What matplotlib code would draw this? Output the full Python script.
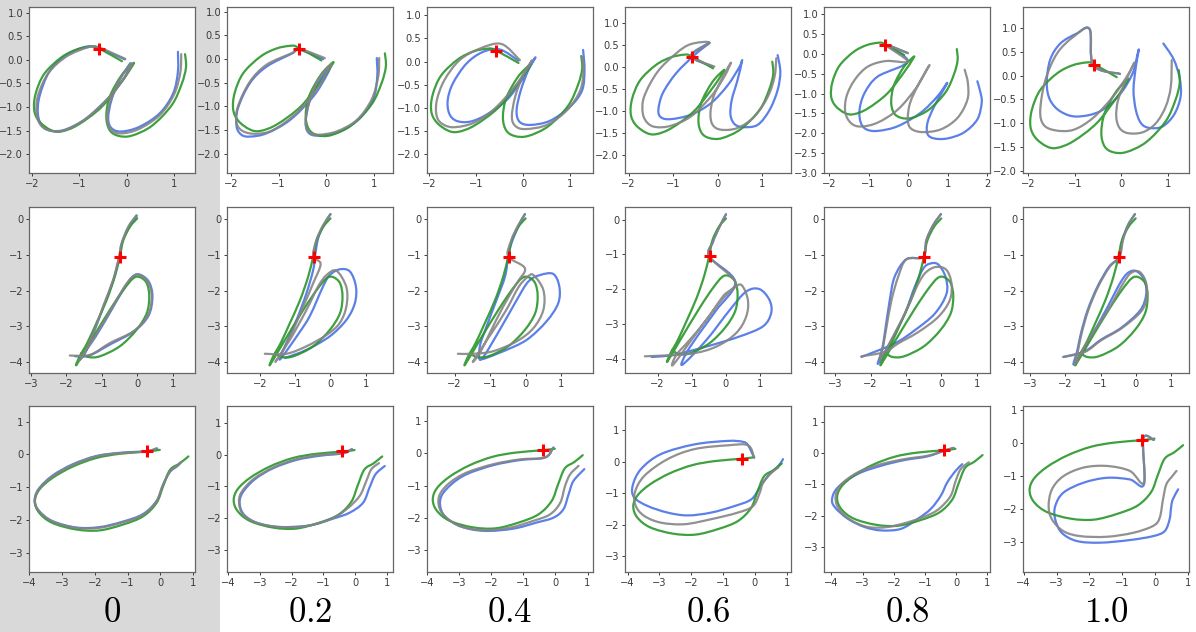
import matplotlib
matplotlib.use("Agg")
import matplotlib.pyplot as plt
from matplotlib.patches import Rectangle, PathPatch
from matplotlib.path import Path
from matplotlib.ticker import MultipleLocator

col_labels = ["0", "0.2", "0.4", "0.6", "0.8", "1.0"]

# red cross (query point) per row
cross = [(-0.58, 0.22), (-0.48, -1.05), (-0.40, 0.10)]

# ---- row 1: "a" ----
a_green = [(-0.10, -0.03), (-0.60, 0.25), (-0.75, 0.28), (-1.05, 0.22), (-1.38, 0.05), (-1.74, -0.30),
           (-1.92, -0.72), (-1.95, -1.07), (-1.84, -1.31), (-1.60, -1.49), (-1.38, -1.52), (-1.03, -1.38),
           (-0.53, -1.00), (-0.11, -0.47), (0.10, -0.16), (0.14, -0.07), (-0.11, -0.33), (-0.36, -0.79),
           (-0.43, -1.21), (-0.36, -1.49), (-0.18, -1.61), (0.10, -1.61), (0.53, -1.40), (0.95, -0.96),
           (1.16, -0.51), (1.25, -0.16), (1.23, 0.12)]
a_gray = [
    [(-0.03, 0.02), (-0.58, 0.26), (-0.80, 0.27), (-1.27, 0.07), (-1.65, -0.28), (-1.87, -0.76), (-1.90, -1.15),
     (-1.80, -1.40), (-1.58, -1.51), (-1.30, -1.49), (-0.85, -1.24), (-0.36, -0.78), (-0.02, -0.34), (0.10, -0.08),
     (-0.14, -0.40), (-0.33, -0.83), (-0.41, -1.23), (-0.34, -1.47), (-0.13, -1.56), (0.25, -1.47), (0.70, -1.17),
     (1.00, -0.73), (1.13, -0.27), (1.15, 0.12)],
    [(-0.03, 0.02), (-0.55, 0.21), (-0.73, 0.12), (-1.25, -0.12), (-1.60, -0.48), (-1.85, -1.00), (-1.88, -1.35),
     (-1.74, -1.53), (-1.46, -1.58), (-1.11, -1.50), (-0.62, -1.14), (-0.20, -0.65), (0.04, -0.23), (0.09, -0.12),
     (-0.17, -0.44), (-0.34, -0.86), (-0.43, -1.28), (-0.38, -1.53), (-0.17, -1.60), (0.22, -1.53), (0.64, -1.29),
     (0.95, -0.86), (1.09, -0.37), (1.11, 0.02)],
    [(-0.07, 0.03), (-0.46, 0.38), (-0.92, 0.28), (-1.35, 0.03), (-1.67, -0.40), (-1.83, -0.83), (-1.84, -1.15),
     (-1.74, -1.33), (-1.49, -1.42), (-1.06, -1.33), (-0.64, -1.05), (-0.21, -0.58), (0.11, -0.11), (0.18, 0.02),
     (0.00, -0.29), (-0.17, -0.76), (-0.24, -1.19), (-0.17, -1.39), (0.04, -1.46), (0.50, -1.37), (0.93, -1.05),
     (1.21, -0.62), (1.28, -0.18), (1.25, 0.10)],
    [(-0.07, 0.01), (-0.60, 0.25), (-0.18, 0.55), (-0.60, 0.52), (-0.93, 0.31), (-1.35, -0.11), (-1.65, -0.67),
     (-1.68, -1.05), (-1.57, -1.27), (-1.38, -1.36), (-1.05, -1.33), (-0.60, -1.12), (-0.15, -0.67), (0.15, -0.22),
     (0.30, 0.10), (0.12, -0.22), (-0.09, -0.67), (-0.16, -1.05), (-0.11, -1.31), (0.08, -1.42), (0.45, -1.38),
     (0.83, -1.12), (1.13, -0.67), (1.28, -0.22), (1.32, 0.20)],
    [(-0.01, 0.02), (-0.56, 0.22), (-0.01, -0.19), (-0.56, -0.18), (-1.02, -0.32), (-1.35, -0.65), (-1.56, -1.07),
     (-1.59, -1.48), (-1.44, -1.75), (-1.19, -1.83), (-0.77, -1.73), (-0.26, -1.40), (0.20, -0.86), (0.49, -0.36),
     (0.52, -0.32), (0.28, -0.73), (0.05, -1.23), (-0.01, -1.65), (0.07, -1.88), (0.36, -1.97), (0.83, -1.90),
     (1.25, -1.61), (1.50, -1.15), (1.51, -0.73), (1.43, -0.40)],
    [(-0.03, 0.04), (-0.60, 0.22), (-0.68, 0.98), (-1.03, 0.82), (-1.38, 0.47), (-1.63, -0.09), (-1.74, -0.72),
     (-1.67, -1.03), (-1.42, -1.15), (-1.03, -1.14), (-0.61, -0.89), (-0.18, -0.44), (0.14, 0.02), (0.28, 0.28),
     (0.10, -0.09), (-0.07, -0.51), (-0.11, -0.86), (-0.04, -1.10), (0.14, -1.21), (0.46, -1.19), (0.74, -1.00),
     (0.95, -0.65), (1.06, -0.23), (1.08, 0.33)],
]
a_blue = [
    [(-0.04, 0.01), (-0.57, 0.24), (-0.85, 0.28), (-1.27, 0.10), (-1.63, -0.25), (-1.84, -0.78), (-1.87, -1.17),
     (-1.77, -1.42), (-1.56, -1.51), (-1.27, -1.47), (-0.85, -1.24), (-0.36, -0.78), (-0.04, -0.36), (0.08, -0.07),
     (-0.15, -0.43), (-0.32, -0.85), (-0.39, -1.24), (-0.32, -1.45), (-0.11, -1.52), (0.27, -1.42), (0.70, -1.13),
     (0.98, -0.71), (1.08, -0.25), (1.08, 0.17)],
    [(-0.06, 0.00), (-0.55, 0.19), (-0.73, 0.11), (-1.25, -0.16), (-1.60, -0.51), (-1.85, -1.04), (-1.88, -1.42),
     (-1.78, -1.60), (-1.60, -1.64), (-1.25, -1.57), (-0.76, -1.29), (-0.27, -0.79), (0.01, -0.34), (0.08, -0.16),
     (-0.17, -0.51), (-0.36, -0.93), (-0.43, -1.35), (-0.36, -1.57), (-0.13, -1.62), (0.29, -1.53), (0.71, -1.25),
     (0.99, -0.83), (1.07, -0.37), (1.06, 0.02)],
    [(-0.10, 0.02), (-0.49, 0.26), (-0.85, 0.21), (-1.20, -0.04), (-1.49, -0.47), (-1.60, -0.83), (-1.57, -1.12),
     (-1.42, -1.28), (-1.13, -1.30), (-0.78, -1.15), (-0.35, -0.83), (-0.03, -0.40), (0.22, 0.03), (0.25, 0.07),
     (0.11, -0.18), (-0.05, -0.62), (-0.14, -1.05), (-0.08, -1.30), (0.15, -1.37), (0.57, -1.28), (1.00, -0.97),
     (1.25, -0.62), (1.30, -0.18), (1.27, 0.25)],
    [(-0.11, 0.01), (-0.60, 0.25), (-0.18, 0.55), (-0.52, 0.27), (-0.93, -0.14), (-1.23, -0.59), (-1.33, -0.97),
     (-1.27, -1.14), (-1.05, -1.18), (-0.60, -1.08), (-0.15, -0.82), (0.23, -0.41), (0.49, 0.00), (0.55, 0.14),
     (0.45, -0.29), (0.32, -0.74), (0.29, -1.08), (0.38, -1.29), (0.57, -1.36), (0.90, -1.31), (1.17, -0.97),
     (1.35, -0.52), (1.41, -0.11), (1.35, 0.27)],
    [(-0.01, 0.02), (-0.56, 0.22), (-0.01, -0.19), (-0.77, -0.57), (-1.10, -0.98), (-1.23, -1.40), (-1.20, -1.73),
     (-1.06, -1.90), (-0.77, -1.94), (-0.26, -1.82), (0.32, -1.48), (0.74, -1.07), (0.99, -0.73), (0.66, -1.32),
     (0.49, -1.73), (0.49, -2.02), (0.66, -2.13), (0.99, -2.13), (1.41, -1.98), (1.75, -1.65), (1.86, -1.23),
     (1.83, -0.98), (1.75, -0.69)],
    [(-0.03, 0.04), (-0.60, 0.22), (-0.68, 0.98), (-0.96, 0.89), (-1.31, 0.68), (-1.53, 0.33), (-1.60, -0.16),
     (-1.53, -0.51), (-1.31, -0.75), (-0.96, -0.86), (-0.46, -0.75), (-0.04, -0.40), (0.24, 0.05), (0.35, 0.47),
     (0.37, 0.53), (0.31, 0.19), (0.26, -0.30), (0.31, -0.72), (0.42, -1.00), (0.60, -1.10), (0.88, -1.07),
     (1.13, -0.82), (1.27, -0.44), (1.25, -0.05), (1.12, 0.35), (0.90, 0.68)],
]

# ---- row 2: "b" ----
b_green = [(0.00, 0.03), (-0.20, -0.20), (-0.39, -0.58), (-0.49, -1.04), (-0.63, -1.60), (-0.86, -2.26),
           (-1.15, -2.91), (-1.41, -3.47), (-1.62, -3.84), (-1.71, -4.08), (-1.30, -3.40), (-0.77, -2.54),
           (-0.39, -1.98), (-0.11, -1.65), (0.08, -1.62), (0.27, -1.79), (0.34, -2.16), (0.27, -2.63),
           (-0.02, -3.10), (-0.49, -3.56), (-1.05, -3.84), (-1.38, -3.86), (-1.57, -3.75)]
b_gray = [
    [(-0.02, 0.12), (-0.25, -0.20), (-0.44, -0.67), (-0.51, -1.04), (-0.68, -1.70), (-0.96, -2.44), (-1.24, -3.19),
     (-1.48, -3.75), (-1.62, -3.93), (-1.20, -3.30), (-0.75, -2.55), (-0.40, -1.95), (-0.15, -1.62), (0.05, -1.55),
     (0.30, -1.75), (0.41, -2.16), (0.30, -2.70), (-0.11, -3.14), (-0.77, -3.47), (-1.33, -3.80), (-1.90, -3.82)],
    [(0.00, 0.15), (-0.21, -0.16), (-0.40, -0.58), (-0.49, -1.04), (-0.28, -1.25), (-0.49, -1.79), (-0.77, -2.44),
     (-1.10, -3.19), (-1.39, -3.75), (-1.55, -3.98), (-1.15, -3.38), (-0.68, -2.54), (-0.35, -1.88), (-0.11, -1.56),
     (0.17, -1.44), (0.45, -1.90), (0.45, -2.44), (0.26, -2.91), (-0.11, -3.24), (-0.68, -3.56), (-1.25, -3.77),
     (-1.86, -3.77)],
    [(-0.02, 0.15), (-0.22, -0.18), (-0.41, -0.60), (-0.49, -1.04), (-0.02, -1.37), (-0.25, -1.79), (-0.63, -2.44),
     (-1.01, -3.19), (-1.29, -3.75), (-1.48, -3.98), (-1.00, -3.25), (-0.55, -2.55), (-0.20, -1.90), (0.05, -1.62),
     (0.22, -1.56), (0.50, -1.98), (0.50, -2.54), (0.22, -3.05), (-0.25, -3.42), (-0.92, -3.70), (-1.48, -3.77),
     (-1.91, -3.77)],
    [(0.00, 0.15), (-0.19, -0.21), (-0.38, -0.64), (-0.48, -1.07), (0.27, -1.79), (-0.09, -2.21), (-0.57, -2.88),
     (-1.06, -3.46), (-1.45, -3.89), (-1.54, -4.17), (-0.86, -3.26), (-0.20, -2.40), (0.20, -2.00), (0.45, -1.88),
     (0.64, -2.31), (0.59, -2.79), (0.30, -3.26), (-0.28, -3.65), (-1.06, -3.86), (-2.37, -3.93)],
    [(-0.01, 0.15), (-0.23, -0.16), (-0.42, -0.58), (-0.51, -1.05), (-0.99, -1.12), (-1.22, -1.61), (-1.41, -2.27),
     (-1.55, -3.02), (-1.65, -3.58), (-1.74, -3.95), (-1.32, -3.20), (-0.94, -2.45), (-0.65, -1.80), (-0.42, -1.47),
     (-0.13, -1.33), (0.15, -1.42), (0.29, -1.80), (0.24, -2.27), (-0.09, -2.74), (-0.65, -3.16), (-1.22, -3.48),
     (-1.60, -3.72), (-2.26, -3.84)],
    [(-0.02, 0.15), (-0.22, -0.16), (-0.36, -0.58), (-0.46, -1.05), (-0.74, -1.33), (-1.07, -1.89), (-1.35, -2.55),
     (-1.54, -3.20), (-1.64, -3.67), (-1.73, -4.05), (-1.35, -3.39), (-0.79, -2.55), (-0.36, -1.80), (-0.13, -1.50),
     (0.11, -1.47), (0.29, -1.75), (0.32, -2.17), (0.15, -2.59), (-0.41, -3.06), (-0.98, -3.39), (-1.45, -3.72),
     (-2.06, -3.86)],
]
b_blue = [
    [(-0.01, 0.10), (-0.24, -0.22), (-0.43, -0.66), (-0.50, -1.04), (-0.67, -1.70), (-0.95, -2.44), (-1.23, -3.19),
     (-1.47, -3.75), (-1.60, -3.90), (-1.18, -3.30), (-0.73, -2.55), (-0.38, -1.95), (-0.12, -1.60), (0.08, -1.55),
     (0.33, -1.75), (0.43, -2.16), (0.32, -2.70), (-0.09, -3.14), (-0.75, -3.50), (-1.35, -3.82), (-1.75, -3.84)],
    [(0.00, 0.15), (-0.19, -0.16), (-0.35, -0.53), (-0.44, -1.04), (-0.49, -1.42), (-0.68, -2.07), (-0.96, -2.82),
     (-1.25, -3.47), (-1.43, -3.93), (-0.90, -3.20), (-0.58, -2.70), (-0.21, -1.88), (-0.02, -1.56), (0.26, -1.40),
     (0.55, -1.46), (0.72, -1.88), (0.69, -2.35), (0.45, -2.82), (-0.02, -3.28), (-0.68, -3.66), (-1.29, -3.89)],
    [(-0.02, 0.15), (-0.21, -0.21), (-0.40, -0.67), (-0.49, -1.04), (-0.58, -1.60), (-0.82, -2.26), (-1.10, -3.00),
     (-1.29, -3.56), (-1.25, -3.93), (-0.73, -3.10), (-0.25, -2.26), (0.08, -1.74), (0.41, -1.56), (0.78, -1.53),
     (0.95, -1.88), (0.92, -2.35), (0.59, -2.86), (0.03, -3.38), (-0.63, -3.70), (-1.20, -3.92)],
    [(0.00, 0.15), (-0.19, -0.21), (-0.38, -0.64), (-0.48, -1.07), (0.27, -1.79), (-0.28, -2.60), (-0.77, -3.26),
     (-1.16, -3.84), (-1.27, -4.17), (-0.57, -3.46), (0.11, -2.60), (0.59, -2.07), (0.98, -2.00), (1.27, -2.31),
     (1.32, -2.69), (1.08, -3.07), (0.40, -3.36), (-0.57, -3.65), (-1.54, -3.89), (-2.17, -3.95)],
    [(-0.01, 0.15), (-0.23, -0.16), (-0.42, -0.58), (-0.51, -1.05), (-0.99, -1.12), (-1.32, -1.61), (-1.46, -2.27),
     (-1.60, -3.20), (-1.68, -3.67), (-1.79, -4.05), (-1.41, -3.39), (-1.03, -2.64), (-0.75, -1.89), (-0.51, -1.38),
     (-0.32, -1.24), (-0.09, -1.26), (0.12, -1.61), (0.15, -2.08), (-0.18, -2.64), (-0.75, -3.11), (-1.32, -3.48),
     (-2.26, -3.86)],
    [(-0.02, 0.15), (-0.22, -0.16), (-0.38, -0.58), (-0.47, -1.05), (-0.76, -1.33), (-1.09, -1.89), (-1.37, -2.55),
     (-1.56, -3.20), (-1.66, -3.67), (-1.76, -4.07), (-1.33, -3.39), (-0.85, -2.55), (-0.45, -1.80), (-0.22, -1.50),
     (0.02, -1.45), (0.25, -1.70), (0.30, -2.10), (0.13, -2.55), (-0.41, -3.04), (-0.98, -3.37), (-1.45, -3.70),
     (-2.06, -3.86)],
]

# ---- row 3: loop ----
c_green = [(-0.02, 0.14), (-0.43, 0.09), (-1.24, 0.02), (-1.96, -0.11), (-2.67, -0.37), (-3.29, -0.72),
           (-3.69, -1.08), (-3.82, -1.43), (-3.69, -1.78), (-3.29, -2.09), (-2.57, -2.29), (-1.86, -2.32),
           (-1.14, -2.14), (-0.53, -1.89), (-0.12, -1.48), (0.08, -0.97), (0.29, -0.47), (0.59, -0.27), (0.85, -0.06)]
c_gray = [
    [(-0.12, 0.19), (-0.43, 0.09), (-1.24, 0.04), (-1.96, -0.06), (-2.67, -0.32), (-3.29, -0.67), (-3.71, -1.08),
     (-3.82, -1.43), (-3.69, -1.73), (-3.29, -2.04), (-2.57, -2.24), (-1.86, -2.24), (-1.14, -2.07), (-0.53, -1.84),
     (-0.12, -1.43), (0.08, -0.92), (0.29, -0.52), (0.54, -0.32), (0.64, -0.22)],
    [(-0.12, 0.16), (-0.38, 0.04), (-1.12, -0.02), (-1.85, -0.15), (-2.58, -0.41), (-3.21, -0.78), (-3.58, -1.19),
     (-3.65, -1.51), (-3.53, -1.87), (-3.11, -2.13), (-2.38, -2.27), (-1.54, -2.24), (-0.80, -2.03), (-0.28, -1.72),
     (0.14, -1.30), (0.35, -0.83), (0.51, -0.46), (0.75, -0.27)],
    [(-0.08, 0.16), (-0.32, -0.13), (-1.10, -0.19), (-1.94, -0.34), (-2.77, -0.60), (-3.29, -0.91), (-3.60, -1.27),
     (-3.63, -1.63), (-3.45, -1.94), (-2.98, -2.25), (-2.25, -2.38), (-1.42, -2.30), (-0.69, -2.09), (-0.17, -1.89),
     (0.15, -1.53), (0.30, -1.01), (0.46, -0.65), (0.72, -0.39)],
    [(-0.02, 0.13), (-0.21, 0.52), (-0.84, 0.52), (-1.89, 0.40), (-2.74, 0.08), (-3.47, -0.45), (-3.77, -0.98),
     (-3.74, -1.41), (-3.47, -1.73), (-2.95, -1.94), (-2.21, -1.99), (-1.37, -1.83), (-0.53, -1.62), (-0.05, -1.41),
     (0.16, -0.98), (0.26, -0.67), (0.53, -0.35), (0.74, -0.19)],
    [(-0.08, 0.17), (-0.38, 0.08), (-0.91, -0.08), (-1.66, -0.19), (-2.40, -0.35), (-3.15, -0.61), (-3.73, -1.04),
     (-3.87, -1.46), (-3.73, -1.83), (-3.36, -2.15), (-2.83, -2.36), (-2.19, -2.36), (-1.45, -2.18), (-0.81, -1.94),
     (-0.49, -1.73), (-0.17, -1.36), (-0.01, -0.88), (0.15, -0.51), (0.41, -0.29)],
    [(-0.04, 0.10), (-0.36, 0.14), (-0.34, -1.20), (-0.77, -0.84), (-1.47, -0.69), (-2.18, -0.74), (-2.79, -1.00),
     (-3.14, -1.40), (-3.24, -1.91), (-3.14, -2.31), (-2.79, -2.67), (-2.28, -2.82), (-1.47, -2.84), (-0.67, -2.72),
     (-0.06, -2.51), (0.14, -2.26), (0.24, -1.70), (0.34, -1.25), (0.53, -0.99), (0.65, -0.84)],
]
c_blue = [
    [(-0.10, 0.18), (-0.43, 0.10), (-1.24, 0.05), (-1.96, -0.05), (-2.67, -0.30), (-3.29, -0.65), (-3.71, -1.06),
     (-3.83, -1.42), (-3.70, -1.72), (-3.30, -2.03), (-2.57, -2.23), (-1.86, -2.22), (-1.14, -2.05), (-0.53, -1.82),
     (-0.12, -1.42), (0.08, -0.92), (0.29, -0.53), (0.52, -0.35), (0.60, -0.25)],
    [(-0.10, 0.17), (-0.38, 0.04), (-1.12, -0.04), (-1.85, -0.17), (-2.58, -0.43), (-3.16, -0.78), (-3.55, -1.21),
     (-3.63, -1.56), (-3.48, -1.90), (-3.06, -2.15), (-2.38, -2.27), (-1.43, -2.22), (-0.70, -2.01), (-0.17, -1.82),
     (0.25, -1.51), (0.45, -1.04), (0.64, -0.62), (0.93, -0.36)],
    [(-0.06, 0.18), (-0.32, -0.13), (-1.10, -0.21), (-1.94, -0.37), (-2.77, -0.65), (-3.24, -0.96), (-3.55, -1.32),
     (-3.58, -1.68), (-3.40, -1.99), (-2.93, -2.27), (-2.20, -2.40), (-1.31, -2.33), (-0.58, -2.14), (-0.06, -1.99),
     (0.25, -1.73), (0.41, -1.27), (0.56, -0.86), (0.90, -0.49)],
    [(-0.02, 0.13), (-0.21, 0.52), (-0.37, 0.63), (-0.84, 0.66), (-1.89, 0.55), (-2.95, 0.24), (-3.58, -0.24),
     (-3.84, -0.77), (-3.79, -1.14), (-3.37, -1.41), (-2.74, -1.62), (-2.11, -1.71), (-1.37, -1.62), (-0.63, -1.41),
     (-0.11, -1.20), (0.16, -0.82), (0.42, -0.45), (0.74, -0.14), (0.89, 0.08)],
    [(-0.08, 0.17), (-0.38, 0.08), (-0.91, -0.10), (-1.66, -0.22), (-2.40, -0.40), (-3.15, -0.66), (-3.79, -1.09),
     (-3.98, -1.46), (-3.89, -1.73), (-3.47, -2.10), (-2.94, -2.36), (-2.40, -2.47), (-1.77, -2.42), (-1.23, -2.10),
     (-0.81, -1.78), (-0.49, -1.36), (-0.28, -0.93), (-0.01, -0.56), (0.20, -0.35)],
    [(-0.04, 0.10), (-0.36, 0.14), (-0.34, -1.25), (-0.77, -1.10), (-1.47, -1.05), (-2.18, -1.20), (-2.79, -1.50),
     (-3.04, -1.91), (-3.04, -2.31), (-2.84, -2.72), (-2.38, -2.97), (-1.68, -3.02), (-0.77, -2.94), (-0.06, -2.82),
     (0.29, -2.67), (0.44, -2.31), (0.49, -1.91), (0.54, -1.70), (0.70, -1.40)],
]

greens = [a_green, b_green, c_green]
grays = [a_gray, b_gray, c_gray]
blues = [a_blue, b_blue, c_blue]

# axis limits (x0, x1, y0, y1) per row / column
limits = [
    [(-2.06, 1.44, -2.40, 1.12), (-2.08, 1.40, -2.41, 1.10), (-2.04, 1.48, -2.41, 1.18),
     (-2.08, 1.65, -2.40, 1.36), (-2.13, 2.07, -3.0, 1.18), (-2.11, 1.45, -2.05, 1.45)],
    [(-3.05, 1.63, -4.31, 0.35), (-2.93, 1.77, -4.31, 0.35), (-2.78, 1.90, -4.31, 0.35),
     (-2.95, 1.90, -4.41, 0.36), (-3.32, 1.38, -4.31, 0.35), (-3.21, 1.52, -4.31, 0.35)],
    [(-4.0, 1.05, -3.59, 1.48), (-4.03, 1.19, -3.68, 1.52), (-4.0, 1.17, -3.67, 1.46),
     (-4.08, 1.14, -3.51, 1.77), (-4.24, 1.09, -3.80, 1.51), (-4.02, 1.03, -3.91, 1.13)],
]
ystep = [0.5, 1, 1]


def smooth_path(pts):
    # cubic Bezier through the read points (Catmull-Rom tangents), drawn by matplotlib's Path
    verts = [pts[0]]
    codes = [Path.MOVETO]
    n = len(pts)
    for i in range(n - 1):
        p0 = pts[max(i - 1, 0)]
        p1 = pts[i]
        p2 = pts[i + 1]
        p3 = pts[min(i + 2, n - 1)]
        c1 = (p1[0] + (p2[0] - p0[0]) / 6, p1[1] + (p2[1] - p0[1]) / 6)
        c2 = (p2[0] - (p3[0] - p1[0]) / 6, p2[1] - (p3[1] - p1[1]) / 6)
        verts += [c1, c2, p2]
        codes += [Path.CURVE4] * 3
    return Path(verts, codes)


W, H = 1196, 632
fig = plt.figure(figsize=(W / 100, H / 100), dpi=100)
fig.patches.append(Rectangle((0, 0), 220 / W, 1, transform=fig.transFigure,
                             facecolor="#d9d9d9", edgecolor="none", zorder=-10))

lefts = [29, 227, 427, 625, 824, 1023]
tops = [7, 207, 406]
size = 166

for r in range(3):
    for c in range(6):
        ax = fig.add_axes([lefts[c] / W, 1 - (tops[r] + size) / H, size / W, size / H])
        for pts, col in [(blues[r][c], "#4a72e6"), (greens[r], "#2a962a"), (grays[r][c], "#858585")]:
            ax.add_patch(PathPatch(smooth_path(pts), fill=False, edgecolor=col, lw=1.6,
                                   alpha=0.9, capstyle="round", joinstyle="round"))
        ax.plot(*cross[r], marker="+", color="red", ms=9, mew=2.2, zorder=5)
        x0, x1, y0, y1 = limits[r][c]
        ax.set_xlim(x0, x1)
        ax.set_ylim(y0, y1)
        ax.xaxis.set_major_locator(MultipleLocator(1))
        ax.yaxis.set_major_locator(MultipleLocator(ystep[r]))
        ax.tick_params(labelsize=7.1, length=2.5, width=0.7, colors="#3a3a3a", pad=1.6)
        for s in ax.spines.values():
            s.set_color("#666")
            s.set_linewidth(0.9)

for c, lab in enumerate(col_labels):
    fig.text((lefts[c] + size / 2) / W, 9.5 / H, "$" + lab + "$", ha="center", va="baseline",
             fontsize=25, math_fontfamily="cm")

fig.savefig("out.png", dpi=100)
